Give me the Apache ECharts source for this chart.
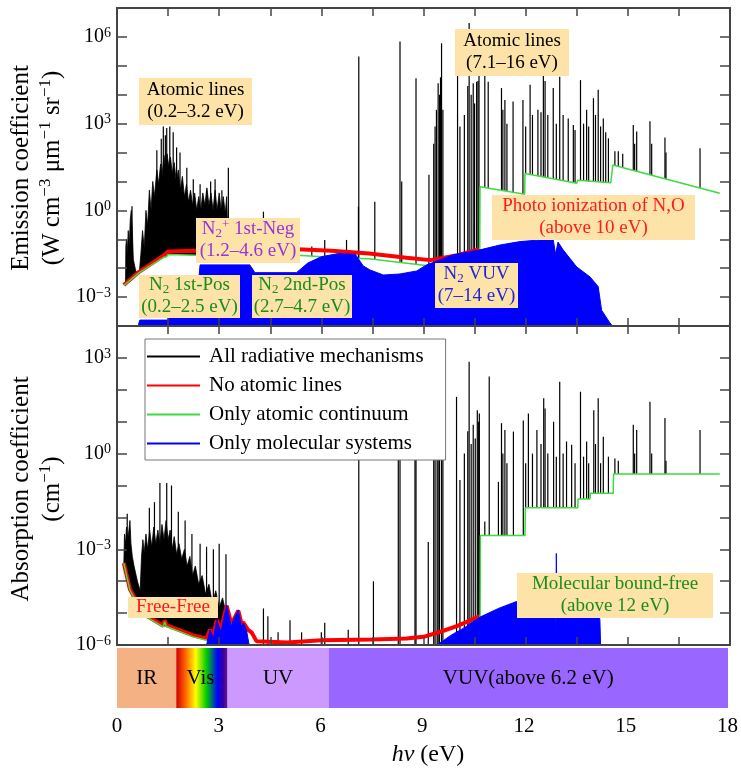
<!DOCTYPE html>
<html>
<head>
<meta charset="utf-8">
<script src="https://cdn.jsdelivr.net/npm/echarts@6/dist/echarts.min.js"></script>
<style>
  html, body { margin: 0; padding: 0; background: #fff; }
  #chart { width: 741px; height: 773px; }
</style>
</head>
<body>
<div id="chart"></div>
<script>
// photon energy in eV, coefficient values

// --- emission (top panel) ---
const emisMass = [[0.25, 2.4e-3], [0.26, 6e-2], [0.28, 1e-1], [0.3, 3e-2], [0.33, 2e-1], [0.36, 6e-2], [0.39, 5e-1],
  [0.42, 1], [0.45, 2e-1], [0.48, 2e-2], [0.55, 8e-3], [0.65, 6e-3], [0.7, 3e-2], [0.75, 2e-1], [0.8, 5e-2], [0.85, 1],
  [0.9, 3e-1], [0.95, 5], [1.0, 1], [1.05, 10], [1.1, 3], [1.17, 25], [1.22, 8], [1.28, 40], [1.32, 15], [1.38, 80],
  [1.42, 30], [1.47, 90], [1.52, 35], [1.57, 70], [1.62, 20], [1.68, 45], [1.74, 10], [1.8, 25], [1.86, 5], [1.92, 15],
  [1.98, 3], [2.04, 8], [2.1, 2], [2.16, 5], [2.22, 1.5], [2.28, 4], [2.34, 1], [2.4, 3], [2.46, 1], [2.52, 4],
  [2.58, 1.5], [2.64, 6], [2.7, 1.5], [2.76, 4], [2.82, 1], [2.88, 5], [2.94, 1], [3.0, 4], [3.06, 1], [3.12, 3],
  [3.18, 0.8], [3.22, 3], [3.27, 4e-2]]

const emisLines = [[0.44, 1.4], [0.98, 1], [1.17, 120], [1.3, 300], [1.36, 800], [1.42, 400], [1.46, 700], [1.55, 800],
  [1.65, 500], [1.75, 150], [1.85, 100], [2.05, 30], [2.24, 12], [2.44, 8], [2.63, 5], [2.75, 10], [2.88, 12], [3.08, 5],
  [3.27, 30], [4.3, 0.9], [5.72, 0.056], [6.1, 0.095], [6.74, 0.095], [7.09, 1.35], [7.1, 2.1e5], [7.57, 2], [8.31, 7e5],
  [8.36, 10], [8.78, 3.7e4], [9.16, 17], [9.3, 200], [9.34, 800], [9.38, 3000], [9.43, 2.5e4], [9.47, 1e4], [9.5, 4e4],
  [9.53, 6e5], [9.57, 3000], [10.0, 4.8e4], [10.07, 800], [10.2, 2000], [10.3, 2e4], [10.34, 3e6], [10.4, 1e4],
  [10.46, 2.5e4], [10.5, 5000], [10.56, 2.8e4], [10.6, 3e4], [10.63, 6.3e4], [10.8, 5.5e4], [10.9, 2.8e4], [11.29, 1.7e4],
  [11.33, 3000], [11.39, 6600], [11.45, 1000], [11.63, 5800], [11.92, 6600], [12.0, 800], [12.13, 2.2e4], [12.2, 2000],
  [12.36, 3000], [12.45, 2500], [12.52, 9.4e4], [12.57, 3e4], [12.65, 2000], [12.81, 1.7e4], [12.9, 1000], [13.0, 4.2e4],
  [13.1, 2000], [13.25, 1500], [13.4, 900], [13.45, 600], [13.61, 3.2e4], [13.7, 1000], [13.79, 3000], [13.85, 800],
  [13.99, 7600], [14.05, 2000], [14.13, 1.5e4], [14.2, 800], [14.28, 1500], [14.35, 500], [14.43, 310], [14.62, 110],
  [14.72, 110], [14.85, 90], [15.16, 900], [15.2, 200], [15.26, 530], [15.65, 1200], [15.7, 200], [16.09, 330],
  [16.12, 100], [17.12, 140]]

const emisRed = [[0.2, 2.6e-3], [0.65, 7.5e-3], [1.38, 2.8e-2], [1.5, 3.8e-2], [2.3, 4e-2], [3.2, 4.2e-2], [4.2, 4.5e-2],
  [5.3, 4.5e-2], [6.3, 4e-2], [7.4, 3.2e-2], [8.5, 2.3e-2], [9.2, 1.9e-2], [10.0, 2.8e-2], [10.64, 4.5e-2]]

const emisGreen = [[0.2, 2.5e-3], [0.65, 7e-3], [1.38, 2.4e-2], [1.45, 2.5e-2], [1.5, 3e-2], [2.3, 2.8e-2], [5.3, 2.8e-2],
  [6.5, 2.3e-2], [7.4, 2.1e-2], [9.2, 1.2e-2], [10.0, 1.3e-2], [10.65, 1.4e-2], [10.66, 6.6], [11.97, 3.6], [11.98, 19],
  [13.5, 8.7], [13.53, 11], [14.5, 9.1], [14.56, 37], [17.7, 3.9]]

const emisBlue = [[0.62, 1e-4], [0.67, 1.6e-4], [1.5, 1.6e-4], [1.55, 4e-3], [2.4, 4e-3], [2.44, 1.3e-2], [3.9, 1.3e-2],
  [4.05, 7e-3], [5.27, 7e-3], [5.6, 1.5e-2], [6.0, 2.5e-2], [6.5, 3.2e-2], [7.0, 3e-2], [7.23, 1.2e-2], [7.43, 8.7e-3],
  [7.82, 5.8e-3], [8.31, 6.3e-3], [8.8, 8e-3], [9.09, 1.3e-2], [9.87, 2.9e-2], [10.66, 4.3e-2], [11.24, 6.3e-2],
  [11.83, 8.3e-2], [12.42, 9.5e-2], [12.81, 9.5e-2], [12.88, 3e-2], [12.95, 8e-2], [13.1, 4.3e-2], [13.5, 1.1e-2],
  [13.89, 5e-3], [14.13, 2.3e-3], [14.23, 3.5e-4], [14.47, 1.3e-4], [14.55, 1e-4]]

// --- absorption (bottom panel) ---
const absMass = [[0.2, 3.2e-4], [0.22, 3e-3], [0.25, 1.5e-3], [0.28, 5e-3], [0.31, 2e-3], [0.35, 4e-3], [0.38, 8e-3],
  [0.41, 1.5e-3], [0.45, 6e-4], [0.5, 3e-4], [0.6, 1e-4], [0.68, 5e-5], [0.72, 6e-4], [0.76, 2e-3], [0.8, 8e-4],
  [0.85, 3e-3], [0.9, 1e-3], [0.96, 4e-3], [1.02, 1.2e-3], [1.08, 5e-3], [1.14, 1.5e-3], [1.2, 4e-3], [1.26, 1.5e-3],
  [1.32, 6e-3], [1.38, 2e-3], [1.44, 8e-3], [1.5, 2e-3], [1.56, 4e-3], [1.62, 1e-3], [1.68, 2.5e-3], [1.75, 7e-4],
  [1.82, 1.5e-3], [1.9, 5e-4], [1.98, 1e-3], [2.06, 3e-4], [2.14, 6e-4], [2.22, 1.5e-4], [2.3, 3e-4], [2.4, 8e-5],
  [2.5, 1.5e-4], [2.6, 4e-5], [2.7, 8e-5], [2.8, 2e-5], [2.9, 5e-5], [3.0, 1.5e-5], [3.1, 3e-5], [3.2, 1e-5], [3.25, 2e-6]]

const absLines = [[0.3, 1.3e-2], [0.95, 2e-2], [1.1, 3e-2], [1.26, 0.12], [1.46, 0.12], [1.6, 0.1], [1.8, 1.5e-2],
  [2.0, 8e-3], [2.2, 3e-3], [2.44, 1.5e-3], [2.63, 1.2e-3], [2.83, 1e-3], [3.0, 1.5e-3], [3.2, 7e-4], [4.3, 1.4e-5],
  [4.43, 8e-6], [4.73, 2.5e-6], [5.08, 6e-6], [5.42, 2.5e-6], [6.0, 2.5e-6], [6.1, 5e-6], [6.79, 3e-6], [7.1, 300],
  [7.53, 1e-4], [8.26, 2000], [8.31, 10], [8.75, 300], [8.78, 20], [9.14, 1.7e-3], [9.3, 30], [9.34, 100], [9.4, 50],
  [9.43, 300], [9.47, 80], [9.53, 2000], [9.57, 20], [9.97, 60], [10.07, 0.15], [10.2, 1], [10.3, 5], [10.34, 760],
  [10.4, 2], [10.46, 8], [10.52, 3], [10.58, 23], [10.62, 10], [10.64, 18], [10.8, 7.4e-3], [10.93, 260], [11.2, 0.13],
  [11.29, 9], [11.33, 1], [11.39, 5.5], [11.45, 0.5], [11.64, 4.9], [11.93, 11], [12.0, 0.5], [12.08, 18], [12.2, 1],
  [12.33, 5.5], [12.45, 2], [12.53, 54], [12.57, 26], [12.65, 1], [12.82, 10], [12.9, 0.8], [13.0, 180], [13.1, 1],
  [13.2, 2.4], [13.35, 1.9], [13.45, 0.5], [13.61, 87], [13.7, 0.8], [13.79, 2.4], [13.85, 0.5], [14.0, 23], [14.05, 2],
  [14.13, 54], [14.2, 0.5], [14.28, 3.4], [14.43, 0.8], [14.62, 0.7], [14.72, 0.6], [15.16, 8], [15.2, 1], [15.26, 5.5],
  [15.65, 42], [15.7, 1], [16.09, 13], [16.12, 0.6], [17.12, 5.5]]

const absRed = [[0.2, 3.7e-4], [0.38, 5.6e-5], [0.77, 9.5e-6], [1.36, 4e-6], [1.4, 6e-6], [1.45, 4.2e-6], [2.24, 2e-6],
  [2.63, 1.6e-6], [2.73, 3e-6], [2.83, 2e-6], [2.93, 6e-6], [3.05, 3e-6], [3.22, 1.7e-5], [3.35, 5e-6], [3.42, 6e-6],
  [3.56, 1.2e-5], [3.65, 5e-6], [3.71, 5e-6], [3.85, 3e-6], [3.95, 2.5e-6], [4.1, 1.3e-6], [5.0, 1.2e-6], [6.0, 1.4e-6],
  [7.5, 1.5e-6], [8.5, 1.6e-6], [9.0, 1.8e-6], [9.5, 2.6e-6], [10.0, 4e-6], [10.66, 8e-6]]

const absGreen = [[0.2, 3.7e-4], [0.38, 5.2e-5], [0.77, 8.7e-6], [1.36, 3.7e-6], [1.4, 5.4e-6], [1.45, 3.8e-6],
  [2.24, 1.8e-6], [2.63, 1.4e-6], [3.0, 1.1e-6], [4.0, 1e-6], [10.66, 1e-6], [10.67, 2.7e-3], [11.98, 2.7e-3],
  [11.99, 2e-2], [13.53, 2e-2], [13.54, 3.8e-2], [13.89, 3.8e-2], [13.9, 5.7e-2], [14.57, 5.7e-2], [14.58, 0.23], [17.7, 0.23]]

const absBlue = [[2.63, 1e-6], [2.73, 3e-6], [2.83, 1.6e-6], [2.93, 6e-6], [3.05, 2.5e-6], [3.22, 1.8e-5], [3.35, 4e-6],
  [3.42, 6e-6], [3.56, 1.26e-5], [3.65, 4e-6], [3.71, 4.9e-6], [3.8, 3e-6], [3.88, 1e-6], [9.4, 1e-6], [9.8, 2e-6],
  [10.2, 3.5e-6], [10.66, 7.5e-6], [11.2, 1.4e-5], [11.73, 2.3e-5], [12.5, 2.5e-5], [12.86, 2.4e-5], [12.88, 1e-6],
  [12.9, 7.4e-4], [12.92, 2.4e-5], [13.5, 2.2e-5], [14.1, 2e-5], [14.18, 6e-6], [14.2, 1e-6]]

// spectral regions along the bottom strip
const bandStart = [0, 1.75, 3.17, 3.25, 6.25]
const bandEnd = [1.75, 3.17, 3.25, 6.25, 18]
const bandNames = ['IR', 'Vis', '', 'UV', 'VUV(above 6.2 eV)']

const seriesNames = ['All radiative mechanisms', 'No atomic lines', 'Only atomic continuum', 'Only molecular systems']

const SERIF = 'Liberation Serif'
const AXIS = '#444'
const lg = pts => pts.map(p => [p[0], Math.log10(p[1])])

const chart = echarts.init(document.getElementById('chart'))

function spikeItem(params, api) {
    const top = api.coord([api.value(0), api.value(1)])
    const cs = params.coordSys
    return {
        type: 'line',
        shape: {x1: top[0], y1: top[1], x2: top[0], y2: cs.y + cs.height},
        style: {stroke: '#000', lineWidth: 1.2}
    }
}

function panel(ax, mass, lines, red, green, blue) {
    const base = {xAxisIndex: ax, yAxisIndex: ax, silent: true, animation: false}
    return [
        {...base, name: seriesNames[0], type: 'line', symbol: 'none', data: lg(mass), z: 1,
            itemStyle: {color: '#000'}, lineStyle: {color: '#000', width: 0.8},
            areaStyle: {color: '#000', opacity: 1, origin: 'start'}},
        {...base, name: seriesNames[0], type: 'custom', data: lg(lines), z: 1,
            itemStyle: {color: '#000'}, renderItem: spikeItem},
        // white mask below the continuum: lines start at the continuum
        {...base, type: 'line', symbol: 'none', data: lg(green), z: 2,
            lineStyle: {opacity: 0}, areaStyle: {color: '#fff', opacity: 1, origin: 'start'}},
        {...base, name: seriesNames[1], type: 'line', symbol: 'none', data: lg(red), z: 3,
            itemStyle: {color: '#ff0000'}, lineStyle: {color: '#ff0000', width: 4}},
        {...base, name: seriesNames[2], type: 'line', symbol: 'none', data: lg(green), z: 4,
            itemStyle: {color: '#3ddc3d'}, lineStyle: {color: '#3ddc3d', width: 1.5}},
        {...base, name: seriesNames[3], type: 'line', symbol: 'none', data: lg(blue), z: 5,
            itemStyle: {color: '#0000ff'}, lineStyle: {color: '#0000ff', width: 1},
            areaStyle: {color: '#0000ff', opacity: 1, origin: 'start'}}
    ]
}

const frameX = (gi, pos) => ({
    type: 'value', gridIndex: gi, position: pos, min: 0, max: 18, interval: 1.5, z: 10,
    axisLine: {show: true, onZero: false, lineStyle: {color: AXIS, width: 2}},
    axisTick: {inside: true, length: 8, lineStyle: {color: AXIS, width: 1.5}},
    axisLabel: {show: false}, splitLine: {show: false}
})

const expRich = {
    b: {fontSize: 20, fontFamily: SERIF, color: '#000', lineHeight: 22},
    s: {fontSize: 14, fontFamily: SERIF, color: '#000', lineHeight: 12, verticalAlign: 'top'}
}

const frameY = (gi, pos, lo, hi, labels) => ({
    type: 'value', gridIndex: gi, position: pos, min: lo, max: hi, interval: 1, z: 10,
    axisLine: {show: true, onZero: false, lineStyle: {color: AXIS, width: 2}},
    axisTick: {inside: true, length: 10, lineStyle: {color: AXIS, width: 1.5}},
    axisLabel: {
        show: labels, margin: 6, rich: expRich,
        formatter: v => {
            const n = Math.round(v)
            if (n % 3 !== 0) return ''
            return '{b|10}{s|' + (n < 0 ? '\u2212' + (-n) : n) + '}'
        }
    },
    splitLine: {show: false}
})

const bandFill = ['#f4b183',
    new echarts.graphic.LinearGradient(0, 0, 1, 0, [
        {offset: 0, color: '#d00000'}, {offset: 0.18, color: '#ff6000'}, {offset: 0.4, color: '#ffff00'},
        {offset: 0.62, color: '#00cc00'}, {offset: 0.85, color: '#0000ff'}, {offset: 1, color: '#4b0082'}]),
    '#55119a', '#cc99ff', '#9966ff']

const noteRich = {
    sub: {fontSize: 13, fontFamily: SERIF, lineHeight: 9, verticalAlign: 'bottom'},
    sup: {fontSize: 13, fontFamily: SERIF, lineHeight: 10, verticalAlign: 'top'}
}

const notes = [
    {x: 139, y: 78, w: 113, h: 47, color: '#000', text: 'Atomic lines\n(0.2–3.2 eV)'},
    {x: 455, y: 29, w: 114, h: 47, color: '#000', text: 'Atomic lines\n(7.1–16 eV)'},
    {x: 196, y: 218, w: 104, h: 45, color: '#9933dd', text: 'N{sub|2}{sup|+} 1st-Neg\n(1.2–4.6 eV)'},
    {x: 139, y: 275, w: 101, h: 43, color: '#1a8c1a', text: 'N{sub|2} 1st-Pos\n(0.2–2.5 eV)'},
    {x: 252, y: 275, w: 100, h: 43, color: '#1a8c1a', text: 'N{sub|2} 2nd-Pos\n(2.7–4.7 eV)'},
    {x: 492, y: 195, w: 203, h: 45, color: '#ff1a1a', text: 'Photo ionization of N,O\n(above 10 eV)'},
    {x: 435, y: 263, w: 83, h: 45, color: '#2222dd', text: 'N{sub|2} VUV\n(7–14 eV)'},
    {x: 128, y: 597, w: 90, h: 21, color: '#ff1a1a', text: 'Free-Free'},
    {x: 517, y: 573, w: 196, h: 45, color: '#1a8c1a', text: 'Molecular bound-free\n(above 12 eV)'}
]

const noteGraphics = notes.flatMap(n => [
    {type: 'rect', z: 30, silent: true, shape: {x: n.x, y: n.y, width: n.w, height: n.h}, style: {fill: '#fde3a7'}},
    {type: 'text', z: 31, silent: true, x: n.x + n.w / 2, y: n.y + n.h / 2,
        style: {text: n.text, fill: n.color, fontSize: 19, fontFamily: SERIF, lineHeight: 22,
            align: 'center', verticalAlign: 'middle', rich: noteRich}}
])

const titleRich = {
    sup: {fontSize: 17, fontFamily: SERIF, lineHeight: 16, verticalAlign: 'top'},
    i: {fontSize: 24, fontFamily: SERIF, fontStyle: 'italic'}
}

const titles = [
    {type: 'text', z: 31, silent: true, x: 37, y: 168, rotation: Math.PI / 2,
        style: {text: 'Emission coefficient\n(W cm{sup|\u22123} μm{sup|\u22121} sr{sup|\u22121})', fill: '#000',
            fontSize: 25, fontFamily: SERIF, lineHeight: 31, align: 'center', verticalAlign: 'middle', rich: titleRich}},
    {type: 'text', z: 31, silent: true, x: 37, y: 489, rotation: Math.PI / 2,
        style: {text: 'Absorption coefficient\n(cm{sup|\u22121})', fill: '#000',
            fontSize: 25, fontFamily: SERIF, lineHeight: 31, align: 'center', verticalAlign: 'middle', rich: titleRich}},
    {type: 'text', z: 31, silent: true, x: 428, y: 755,
        style: {text: '{i|hv} (eV)', fill: '#000', fontSize: 24, fontFamily: SERIF,
            align: 'center', verticalAlign: 'middle', rich: titleRich}}
]

const option = {
    animation: false,
    backgroundColor: '#fff',
    grid: [
        {left: 117, top: 8, width: 613, height: 318},
        {left: 117, top: 326, width: 613, height: 319},
        {left: 117, top: 648, width: 613, height: 60}
    ],
    xAxis: [
        frameX(0, 'bottom'), frameX(0, 'top'), frameX(1, 'bottom'), frameX(1, 'top'),
        {type: 'value', gridIndex: 2, min: 0, max: 18, interval: 3,
            axisLine: {show: false}, axisTick: {show: false}, splitLine: {show: false},
            axisLabel: {margin: 8, fontSize: 21, fontFamily: SERIF, color: '#000'}}
    ],
    yAxis: [
        frameY(0, 'left', -4, 7, true), frameY(0, 'right', -4, 7, false),
        frameY(1, 'left', -6, 4, true), frameY(1, 'right', -6, 4, false),
        {type: 'value', gridIndex: 2, min: 0, max: 1, show: false}
    ],
    legend: {
        data: seriesNames, orient: 'vertical', left: 145, top: 339, icon: 'rect',
        itemWidth: 53, itemHeight: 2, itemGap: 8, padding: [7, 22, 6, 2], selectedMode: false,
        backgroundColor: '#fff', borderColor: '#777', borderWidth: 1, z: 20,
        textStyle: {fontSize: 21, fontFamily: SERIF, color: '#000', padding: [0, 0, 0, 4]}
    },
    series: [
        ...panel(0, emisMass, emisLines, emisRed, emisGreen, emisBlue),
        ...panel(2, absMass, absLines, absRed, absGreen, absBlue),
        {
            type: 'custom', xAxisIndex: 4, yAxisIndex: 4, silent: true,
            data: bandStart.map((s, i) => [s, bandEnd[i], i]),
            renderItem: (params, api) => {
                const i = api.value(2)
                const p0 = api.coord([api.value(0), 1])
                const p1 = api.coord([api.value(1), 0])
                return {
                    type: 'group', children: [
                        {type: 'rect', shape: {x: p0[0], y: p0[1], width: p1[0] - p0[0] + 0.5, height: p1[1] - p0[1]},
                            style: {fill: bandFill[i]}},
                        {type: 'text', style: {text: bandNames[i], x: (p0[0] + p1[0]) / 2, y: (p0[1] + p1[1]) / 2,
                            align: 'center', verticalAlign: 'middle', fontSize: 21, fontFamily: SERIF, fill: '#000'}}
                    ]
                }
            }
        }
    ],
    graphic: [...noteGraphics, ...titles]
}

chart.setOption(option)
</script>
</body>
</html>
